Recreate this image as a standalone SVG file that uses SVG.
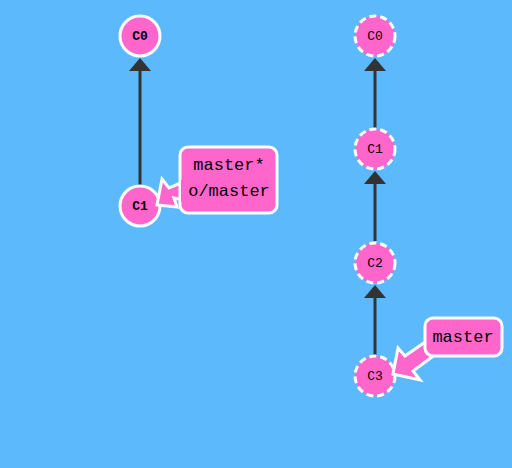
<svg xmlns="http://www.w3.org/2000/svg" width="512" height="468" viewBox="0 0 512 468">
<defs>
<style>
.commit{fill:#ff66cc;stroke:#fff;stroke-width:3}
.ghost{stroke-dasharray:7 4}
.cl{font-family:"Liberation Mono","Courier New",monospace;font-size:13px;fill:#000;text-anchor:middle}
.edge{stroke:#333;stroke-width:3;fill:none}
.head{fill:#333}
.tag{fill:#ff66cc;stroke:#fff;stroke-width:3;stroke-linejoin:miter}
.tl{font-family:"Liberation Mono","Courier New",monospace;font-size:17px;fill:#000;text-anchor:middle}
</style>
</defs>
<rect width="512" height="468" fill="#5cb9fb"/>
<g id="connectors">
<line class="edge" x1="140" y1="185" x2="140" y2="66"/>
<polygon class="head" points="140,58 129,71 151,71"/>
<line class="edge" x1="375" y1="128" x2="375" y2="66"/>
<polygon class="head" points="375,58 364,71 386,71"/>
<line class="edge" x1="375" y1="241" x2="375" y2="179"/>
<polygon class="head" points="375,171 364,184 386,184"/>
<line class="edge" x1="375" y1="355" x2="375" y2="293"/>
<polygon class="head" points="375,285 364,298 386,298"/>
</g>
<g id="c0-left"><circle class="commit" cx="140" cy="36" r="20"/><text class="cl" x="140" y="40" font-weight="bold">C0</text></g>
<g id="c1-left"><circle class="commit" cx="140" cy="206" r="20"/><text class="cl" x="140" y="210" font-weight="bold">C1</text></g>
<g id="c0-right"><circle class="commit ghost" cx="375" cy="36" r="20"/><text class="cl" x="375" y="40">C0</text></g>
<g id="c1-right"><circle class="commit ghost" cx="375" cy="149" r="20"/><text class="cl" x="375" y="153">C1</text></g>
<g id="c2-right"><circle class="commit ghost" cx="375" cy="263" r="20"/><text class="cl" x="375" y="267">C2</text></g>
<g id="c3-right"><circle class="commit ghost" cx="375" cy="376" r="20"/><text class="cl" x="375" y="380">C3</text></g>
<g id="label-left">
<polygon class="tag" points="157,205 162,179 169,188 183,182 183,200 174,198 177,207"/>
<rect class="tag" x="180" y="147" width="97" height="66" rx="8"/>
<rect x="181" y="180" width="4" height="22" fill="#ff66cc"/>
<text class="tl" x="229" y="170">master*</text>
<text class="tl" x="229" y="196">o/master</text>
</g>
<g id="label-right">
<polygon class="tag" points="393,374 398,348 405,356 428,340 436,354 413,371 420,380"/>
<rect class="tag" x="425" y="318" width="77" height="38" rx="8"/>
<text class="tl" x="463" y="342">master</text>
</g>
</svg>
